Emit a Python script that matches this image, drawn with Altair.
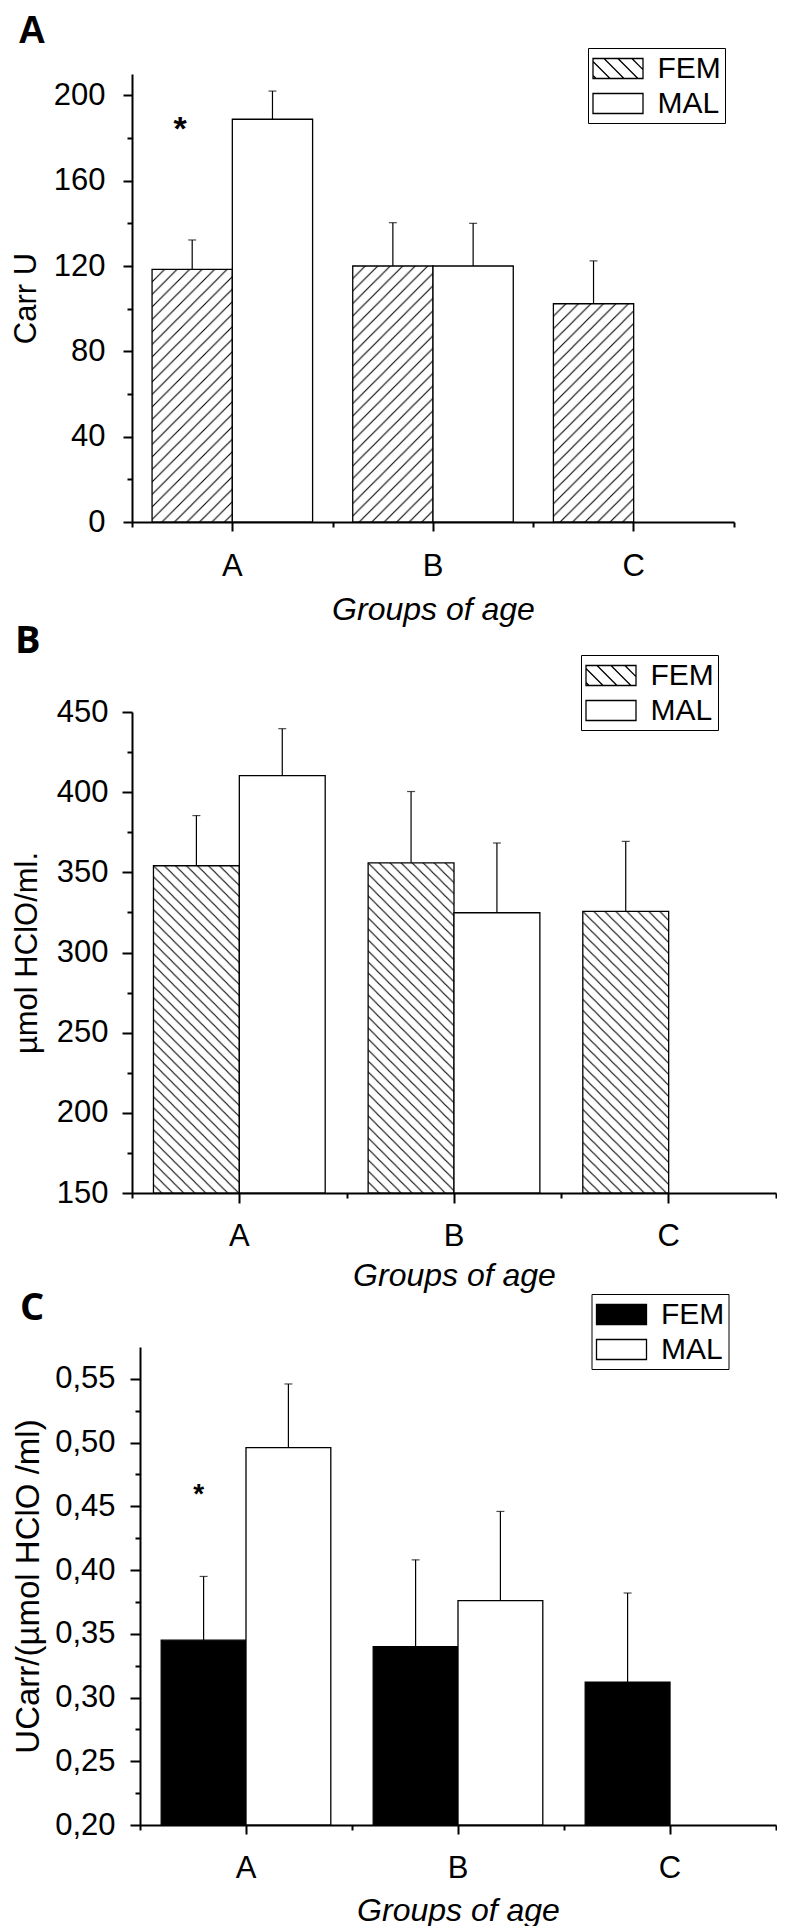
import altair as alt
import pandas as pd
from urllib.parse import quote

FONT = "Liberation Sans, Arial, Helvetica, sans-serif"
LETTER_FONT_B = "Open Sans, Liberation Sans, sans-serif"

GROUPS = ["A", "B", "C"]
SEXES = ["FEM", "MAL"]

# ---- Panel A : Carr U ----
A_FEM = [118.4, 120.0, 102.3]
A_FEM_SD = [13.8, 20.3, 20.1]
A_MAL = [188.8, 120.0]
A_MAL_SD = [13.2, 20.0]
A_STAR = 188.0
A_MAJOR = [0, 40, 80, 120, 160, 200]
A_MINOR = [20, 60, 100, 140, 180]

# ---- Panel B : umol HClO/ml ----
B_FEM = [354.1, 355.9, 325.6]
B_FEM_SD = [31.3, 44.5, 43.7]
B_MAL = [410.3, 324.8]
B_MAL_SD = [29.3, 43.5]
B_MAJOR = [150, 200, 250, 300, 350, 400, 450]
B_MINOR = [175, 225, 275, 325, 375, 425]

# ---- Panel C : UCarr/(umol HClO/ml) ----
C_FEM = [0.345, 0.340, 0.312]
C_FEM_SD = [0.050, 0.068, 0.070]
C_MAL = [0.496, 0.376]
C_MAL_SD = [0.050, 0.070]
C_STAR = 0.466
C_MAJOR = [0.20, 0.25, 0.30, 0.35, 0.40, 0.45, 0.50, 0.55]
C_MINOR = [0.225, 0.275, 0.325, 0.375, 0.425, 0.475, 0.525]


def make_df(fem, fem_sd, mal, mal_sd):
    rows = []
    for i, g in enumerate(GROUPS):
        rows.append({"group": g, "sex": "FEM", "value": fem[i], "hi": fem[i] + fem_sd[i]})
        if i < len(mal):
            rows.append({"group": g, "sex": "MAL", "value": mal[i], "hi": mal[i] + mal_sd[i]})
    return pd.DataFrame(rows)


def hatch_uri(step, forward):
    s = step
    if forward:   # "/"
        d = f"M-1,1L1,-1M0,{s}L{s},0M{s-1},{s+1}L{s+1},{s-1}"
    else:         # "\"
        d = f"M-1,{s-1}L1,{s+1}M0,0L{s},{s}M{s-1},-1L{s+1},1"
    svg = ("<svg xmlns='http://www.w3.org/2000/svg'><defs>"
           f"<pattern id='p' patternUnits='userSpaceOnUse' width='{s}' height='{s}'>"
           f"<path d='{d}' stroke='black' stroke-width='1.1' fill='none'/></pattern></defs>"
           "<rect width='100%' height='100%' fill='url(#p)'/></svg>")
    return "data:image/svg+xml;charset=utf-8," + quote(svg)


SW, SH = 1.613, 0.645          # legend swatch half-width / half-height (symbol units)
RECT_SYMBOL = f"M{-SW},{-SH}H{SW}V{SH}H{-SW}Z"


def hatch_symbol(spacing=0.9):
    parts = [RECT_SYMBOL]
    x0 = -SW - 2 * SH + 0.2
    while x0 < SW:
        xs, ys = x0, -SH
        xe, ye = x0 + 2 * SH, SH
        if xs < -SW:
            ys = -SH + (-SW - xs)
            xs = -SW
        if xe > SW:
            ye = SH - (xe - SW)
            xe = SW
        if xe > xs:
            parts.append(f"M{xs:.3f},{ys:.3f}L{xe:.3f},{ye:.3f}")
        x0 += spacing
    return "".join(parts)


def panel(letter, letter_font, df, base, ydomain, major, minor, ytitle, ytitle_size,
          label_expr, fem_fill, hatch, legend_xy, width, height, star=None,
          star_dx=0, star_size=32, y_label_pad=18, y_title_pad=10, x_label_pad=20,
          x_title_pad=13, y_tick=9, x_tick=9, title_dx=10, title_offset=4,
          x_range=None, y_offset=0):
    if x_range is None:
        xscale = alt.Scale(domain=GROUPS, paddingInner=0, paddingOuter=0)
    else:
        xscale = alt.Scale(domain=GROUPS, paddingInner=0, paddingOuter=0, range=x_range)
    oscale = alt.Scale(domain=SEXES, paddingInner=0, paddingOuter=0.25)
    yscale = alt.Scale(domain=ydomain, nice=False, zero=False)
    fill_scale = alt.Scale(domain=SEXES, range=[fem_fill, "white"])
    stroke_scale = alt.Scale(domain=SEXES, range=["black", "black"])
    shape_scale = alt.Scale(domain=SEXES,
                            range=[hatch_symbol() if hatch else RECT_SYMBOL, RECT_SYMBOL])

    leg = alt.Legend(title=None, orient="none", legendX=legend_xy[0], legendY=legend_xy[1],
                     direction="vertical", strokeColor="black", fillColor="white",
                     padding=4, labelFont=FONT, labelFontSize=30, labelColor="black",
                     labelOffset=23, symbolSize=961, symbolOffset=9.5,
                     symbolStrokeWidth=1.3, rowPadding=3, cornerRadius=0, labelLimit=0)

    x_major = alt.Axis(orient="bottom", title="Groups of age", titleFontStyle="italic",
                       titleFontWeight="normal", titleFontSize=32, titleFont=FONT,
                       labelAngle=0, labelFontSize=31, labelFont=FONT, tickSize=x_tick,
                       labelPadding=x_label_pad, titlePadding=x_title_pad)
    x_minor = alt.Axis(orient="bottom", title=None, labels=False, domain=False,
                       tickSize=5, tickBand="extent")
    y_major = alt.Axis(orient="left", title=ytitle, titleFontSize=ytitle_size,
                       titleFontWeight="normal", titleFont=FONT, values=major,
                       labelFontSize=31, labelFont=FONT, tickSize=y_tick,
                       labelPadding=y_label_pad, titlePadding=y_title_pad,
                       labelExpr=label_expr, offset=y_offset)
    y_minor = alt.Axis(orient="left", title=None, labels=False, domain=False,
                       values=minor, tickSize=5, offset=y_offset)

    X = lambda ax=None: alt.X("group:N", scale=xscale, axis=ax)
    XO = alt.XOffset("sex:N", scale=oscale)
    Y = lambda ax=None, f="value": alt.Y(f"{f}:Q", scale=yscale, axis=ax)

    base_chart = alt.Chart(df)
    bars = base_chart.mark_bar(stroke="black", strokeWidth=1.3).encode(
        x=X(x_major), xOffset=XO, y=Y(y_major), y2=alt.datum(base),
        fill=alt.Fill("sex:N", scale=fill_scale, legend=leg))
    layers = [bars]
    if hatch:
        img = base_chart.transform_filter(alt.datum.sex == "FEM").mark_image(aspect=False).encode(
            x=X(), xOffset=XO, y=Y(), y2=alt.datum(base), url=alt.value(hatch))
        layers.append(img)
    err = base_chart.mark_rule(color="black", strokeWidth=1.2).encode(
        x=X(), xOffset=XO, y=Y(), y2="hi:Q")
    cap = base_chart.mark_tick(color="black", thickness=1.2, size=8).encode(
        x=X(), xOffset=XO, y=Y(f="hi"))
    minor_l = base_chart.mark_rule(opacity=0).encode(x=X(x_minor), y=Y(y_minor))
    legend_l = base_chart.transform_filter("false").mark_point(
        filled=True, strokeWidth=1.3, opacity=1).encode(
        shape=alt.Shape("sex:N", scale=shape_scale, legend=leg),
        fill=alt.Fill("sex:N", scale=fill_scale, legend=leg),
        stroke=alt.Stroke("sex:N", scale=stroke_scale, legend=leg))
    layers += [err, cap, minor_l, legend_l]
    if star is not None:
        sdf = pd.DataFrame({"group": ["A"], "sex": ["FEM"], "value": [star]})
        st = alt.Chart(sdf).mark_text(text="*", fontSize=star_size, fontWeight="bold",
                                      font=FONT, dx=star_dx, dy=9, baseline="middle",
                                      color="black").encode(x=X(), xOffset=XO, y=Y())
        layers.append(st)
    return alt.layer(*layers).resolve_axis(x="independent", y="independent").properties(
        width=width, height=height,
        title=alt.TitleParams(letter, anchor="start", frame="bounds", font=letter_font,
                              fontSize=38, fontWeight="bold", color="black",
                              dx=title_dx, offset=title_offset))


dfA = make_df(A_FEM, A_FEM_SD, A_MAL, A_MAL_SD)
dfB = make_df(B_FEM, B_FEM_SD, B_MAL, B_MAL_SD)
dfC = make_df(C_FEM, C_FEM_SD, C_MAL, C_MAL_SD)

pA = panel("A", FONT, dfA, 0, [0, 210], A_MAJOR, A_MINOR, "Carr U", 31,
           "datum.label", "white", hatch_uri(12.5, True), (456, -26), 602, 448,
           star=A_STAR, star_dx=-12, star_size=34, y_label_pad=18, y_title_pad=11,
           x_label_pad=20, x_title_pad=13, title_offset=-3, title_dx=8)
pB = panel("B", LETTER_FONT_B, dfB, 150, [150, 450], B_MAJOR, B_MINOR, "µmol HClO/ml.", 31,
           "datum.label", "white", hatch_uri(11, False), (449, -57), 644, 481,
           y_label_pad=14, y_title_pad=12.3, x_label_pad=18, x_title_pad=9, x_tick=10,
           y_tick=10, title_offset=-6.5, title_dx=3)
pC = panel("C", LETTER_FONT_B, dfC, 0.2, [0.2, 0.575], C_MAJOR, C_MINOR,
           "UCarr/(µmol HClO /ml)", 33,
           "replace(format(datum.value, '.2f'), '.', ',')", "black", None, (459.5, -53),
           644, 478, star=C_STAR, star_dx=-5, star_size=28, y_label_pad=15,
           y_title_pad=8.7, y_tick=10, x_label_pad=19, x_title_pad=12,
           title_offset=-34.3, title_dx=7, x_range=[8, 644], y_offset=-8)

chart = alt.concat(pA, pB, pC, columns=1, spacing=-2, align="none").resolve_scale(
    fill="independent", shape="independent", stroke="independent", xOffset="independent"
).resolve_legend(fill="independent", shape="independent", stroke="independent").properties(
    padding={"left": 2, "top": 4, "right": 0, "bottom": 0}, background="white"
).configure_view(stroke=None).configure_axis(
    domainColor="black", domainWidth=2, tickColor="black", tickWidth=2,
    labelColor="black", titleColor="black", grid=False
)

chart.save("out.html", embed_options={"renderer": "svg", "actions": False})
